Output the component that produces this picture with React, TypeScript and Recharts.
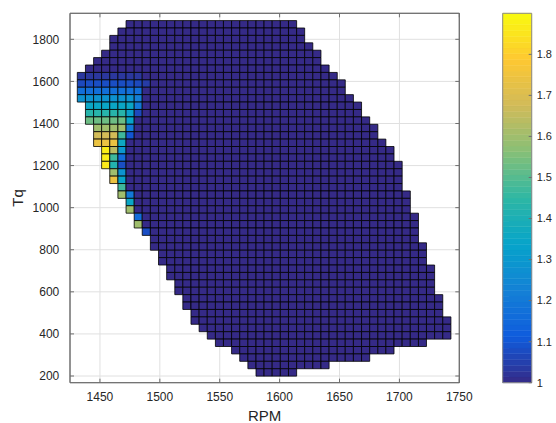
import React from "react"
import {
  ScatterChart,
  XAxis,
  YAxis,
  CartesianGrid,
  ReferenceArea,
} from "recharts"

// cell edges of the RPM / Tq grid
const rpmEdges = [
  1431.1, 1437.9, 1444.7, 1451.4, 1458.2, 1465.0, 1471.8, 1478.6, 1485.3, 1492.1,
  1498.9, 1505.7, 1512.5, 1519.2, 1526.0, 1532.8, 1539.6, 1546.4, 1553.1, 1559.9,
  1566.7, 1573.5, 1580.3, 1587.0, 1593.8, 1600.6, 1607.4, 1614.2, 1620.9, 1627.7,
  1634.5, 1641.3, 1648.1, 1654.8, 1661.6, 1668.4, 1675.2, 1682.0, 1688.7, 1695.5,
  1702.3, 1709.1, 1715.9, 1722.6, 1729.4, 1736.2, 1743.0,
]
// top to bottom
const tqEdges = [
  1889, 1853.8, 1818.6, 1783.4, 1748.2, 1713, 1677.8, 1642.6, 1607.4, 1572.2,
  1537, 1501.8, 1466.6, 1431.4, 1396.2, 1361, 1325.8, 1290.6, 1255.4, 1220.2,
  1185, 1149.8, 1114.6, 1079.4, 1044.2, 1009, 973.8, 938.6, 903.4, 868.2,
  833, 797.8, 762.6, 727.4, 692.2, 657, 621.8, 586.6, 551.4, 516.2,
  481, 445.8, 410.6, 375.4, 340.2, 305, 269.8, 234.6, 199.4,
]

// first / last+1 column that holds data, per row (top row first)
const rowStart = [
  6, 5, 4, 4, 3, 2, 1, 0, 0, 0, 0, 1, 1, 1, 2, 2, 2, 3, 3, 3, 4, 4, 5, 5,
  6, 6, 7, 7, 8, 9, 9, 10, 10, 11, 11, 12, 12, 13, 13, 14, 14, 15, 16, 17, 19, 20, 21, 22,
]
const rowEnd = [
  27, 28, 28, 29, 30, 30, 31, 32, 33, 33, 34, 35, 35, 36, 37, 37, 38, 39, 39, 40, 40, 40, 40, 41,
  41, 41, 42, 42, 42, 42, 43, 43, 43, 44, 44, 44, 44, 45, 45, 45, 46, 46, 46, 43, 39, 36, 31, 27,
]

// cells above 1: [row, first col, values]
const hotRows: [number, number, number[]][] = [
  [7, 0, [1.03, 1.03, 1.03, 1.03, 1.03, 1.03, 1.03, 1.03]],
  [8, 0, [1.07, 1.08, 1.08, 1.08, 1.08, 1.08, 1.08, 1.07, 1.04]],
  [9, 0, [1.17, 1.17, 1.17, 1.17, 1.17, 1.17, 1.17, 1.17]],
  [10, 0, [1.28, 1.28, 1.28, 1.28, 1.28, 1.28, 1.28, 1.22]],
  [11, 1, [1.35, 1.35, 1.35, 1.35, 1.35, 1.35, 1.2]],
  [12, 1, [1.43, 1.43, 1.43, 1.43, 1.43, 1.32, 1.07]],
  [13, 1, [1.53, 1.53, 1.53, 1.53, 1.53, 1.34]],
  [14, 2, [1.6, 1.6, 1.6, 1.6, 1.2]],
  [15, 2, [1.68, 1.68, 1.68, 1.47, 1.1]],
  [16, 2, [1.74, 1.74, 1.74, 1.36]],
  [17, 3, [1.87, 1.64, 1.3]],
  [18, 3, [1.87, 1.47, 1.16]],
  [19, 3, [1.86, 1.42, 1.08]],
  [20, 4, [1.6, 1.28]],
  [21, 4, [1.74, 1.34]],
  [22, 5, [1.47]],
  [23, 5, [1.6, 1.2]],
  [24, 6, [1.35]],
  [25, 6, [1.6]],
  [26, 7, [1.16]],
  [27, 7, [1.6]],
  [28, 8, [1.08]],
]

const xTicks = [1450, 1500, 1550, 1600, 1650, 1700, 1750]
const yTicks = [200, 400, 600, 800, 1000, 1200, 1400, 1600, 1800]
const cbTicks = [1, 1.1, 1.2, 1.3, 1.4, 1.5, 1.6, 1.7, 1.8]
const C_MIN = 1
const C_MAX = 1.9
const X_DOMAIN = [1425, 1750]
const Y_DOMAIN = [168.2, 1923.6]

const parula = [
  "#352A87", "#0F5CDD", "#1481D6", "#06A4CA", "#2EB7A4",
  "#87BF77", "#D1BB59", "#FEC832", "#F9FB0E",
]
const CB_LEVELS = 64

const FONT = '"Liberation Sans", Arial, Helvetica, sans-serif'
const TEXT = "#262626"
const AXIS = "#6f6f6f"

function hexToRgb(h: string) {
  const n = parseInt(h.slice(1), 16)
  return [(n >> 16) & 255, (n >> 8) & 255, n & 255]
}

function parulaColor(v: number) {
  const t = Math.min(1, Math.max(0, (v - C_MIN) / (C_MAX - C_MIN))) * (parula.length - 1)
  const i = Math.min(parula.length - 2, Math.floor(t))
  const f = t - i
  const a = hexToRgb(parula[i])
  const b = hexToRgb(parula[i + 1])
  const c = a.map((x, k) => Math.round(x + (b[k] - x) * f))
  return `rgb(${c[0]},${c[1]},${c[2]})`
}

const hot = new Map<string, number>()
hotRows.forEach(([r, c0, vals]) => vals.forEach((v, i) => hot.set(`${r}-${c0 + i}`, v)))

const cells: { key: string; x1: number; x2: number; y1: number; y2: number; v: number }[] = []
rowStart.forEach((s, r) => {
  for (let c = s; c < rowEnd[r]; c++) {
    cells.push({
      key: `${r}-${c}`,
      x1: rpmEdges[c],
      x2: rpmEdges[c + 1],
      y1: tqEdges[r + 1],
      y2: tqEdges[r],
      v: hot.get(`${r}-${c}`) ?? 1,
    })
  }
})

// colormap bands for the colorbar
const bands = Array.from({ length: CB_LEVELS }, (_, i) => {
  const lo = C_MIN + ((C_MAX - C_MIN) * i) / CB_LEVELS
  const hi = C_MIN + ((C_MAX - C_MIN) * (i + 1)) / CB_LEVELS
  return { lo, hi, color: parulaColor((lo + hi) / 2) }
})

const XTick = ({ x, y, payload }: any) => (
  <g>
    <line x1={x} x2={x} y1={y - 9.3} y2={y - 13.3} stroke={AXIS} />
    <text x={x} y={y} dy="0.71em" textAnchor="middle" fill={TEXT} fontSize={12} fontFamily={FONT}>
      {payload.value}
    </text>
  </g>
)

const YTick = ({ x, y, payload }: any) => (
  <g>
    <line x1={x + 10.7} x2={x + 14.7} y1={y} y2={y} stroke={AXIS} />
    <text x={x} y={y} dy="0.35em" textAnchor="end" fill={TEXT} fontSize={12} fontFamily={FONT}>
      {payload.value}
    </text>
  </g>
)

const TopTick = ({ x, y }: any) => <line x1={x} x2={x} y1={y} y2={y + 4} stroke={AXIS} />
const RightTick = ({ x, y }: any) => <line x1={x - 4} x2={x} y1={y} y2={y} stroke={AXIS} />

const CbTick = ({ x, y, payload }: any) => (
  <g>
    <line x1={x - 8} x2={x - 5} y1={y} y2={y} stroke={AXIS} />
    <text x={x} y={y} dy="0.35em" textAnchor="start" fill={TEXT} fontSize={11} fontFamily={FONT}>
      {payload.value}
    </text>
  </g>
)

const TqLabel = ({ viewBox }: any) => (
  <text
    x={viewBox.x + 18}
    y={viewBox.y + viewBox.height / 2}
    transform={`rotate(-90, ${viewBox.x + 18}, ${viewBox.y + viewBox.height / 2})`}
    textAnchor="middle"
    dy="0.35em"
    fill={TEXT}
    fontSize={15}
    fontFamily={FONT}
  >
    Tq
  </text>
)

export default function App() {
  return (
    <div style={{ position: "absolute", left: 0, top: 0, width: 556, height: 423, background: "#fff" }}>
      <div style={{ position: "absolute", left: 0, top: 0 }}>
        <ScatterChart width={488} height={423} margin={{ top: 12.3, right: 27.7, bottom: 0, left: 0 }}>
          <CartesianGrid stroke="#e0e0e0" verticalValues={xTicks} horizontalValues={yTicks} />
          <XAxis
            type="number"
            dataKey="x"
            domain={X_DOMAIN}
            ticks={xTicks}
            interval={0}
            allowDataOverflow
            height={40.3}
            tickSize={0}
            tickMargin={9.3}
            tick={XTick}
            axisLine={{ stroke: AXIS }}
            label={{ value: "RPM", position: "insideBottom", offset: 2, fill: TEXT, fontSize: 15, fontFamily: FONT }}
          />
          <XAxis
            xAxisId="top"
            orientation="top"
            type="number"
            dataKey="x"
            domain={X_DOMAIN}
            ticks={xTicks}
            interval={0}
            allowDataOverflow
            height={1}
            tickSize={0}
            tickMargin={0}
            tick={TopTick}
            axisLine={{ stroke: AXIS }}
          />
          <YAxis
            type="number"
            dataKey="y"
            domain={Y_DOMAIN}
            ticks={yTicks}
            interval={0}
            allowDataOverflow
            width={70}
            tickSize={0}
            tickMargin={10.7}
            tick={YTick}
            axisLine={{ stroke: AXIS }}
            label={{ content: TqLabel }}
          />
          <YAxis
            yAxisId="right"
            orientation="right"
            type="number"
            dataKey="y"
            domain={Y_DOMAIN}
            ticks={yTicks}
            interval={0}
            allowDataOverflow
            width={1}
            tickSize={0}
            tickMargin={0}
            tick={RightTick}
            axisLine={{ stroke: AXIS }}
          />
          <ReferenceArea
            x1={X_DOMAIN[0]}
            x2={X_DOMAIN[1]}
            y1={Y_DOMAIN[0]}
            y2={Y_DOMAIN[1]}
            fill="none"
            stroke={AXIS}
            strokeWidth={1}
            ifOverflow="visible"
          />
          {cells.map((c) => (
            <ReferenceArea
              key={c.key}
              x1={c.x1}
              x2={c.x2}
              y1={c.y1}
              y2={c.y2}
              fill={parulaColor(c.v)}
              fillOpacity={1}
              stroke="#000"
              strokeWidth={0.8}
              ifOverflow="visible"
            />
          ))}
        </ScatterChart>
      </div>
      <div style={{ position: "absolute", left: 490, top: 0 }}>
        <ScatterChart width={66} height={423} margin={{ top: 13.3, right: 0, bottom: 39.3, left: 12.7 }}>
          <XAxis
            type="number"
            dataKey="x"
            domain={[0, 1]}
            allowDataOverflow
            height={1}
            tick={false}
            tickLine={false}
            axisLine={false}
          />
          <YAxis
            orientation="right"
            type="number"
            dataKey="y"
            domain={[C_MIN, C_MAX]}
            ticks={cbTicks}
            interval={0}
            allowDataOverflow
            width={24.3}
            tickSize={0}
            tickMargin={5}
            axisLine={false}
            tick={CbTick}
          />
          {bands.map((b) => (
            <ReferenceArea
              key={b.lo}
              x1={0}
              x2={1}
              y1={b.lo}
              y2={b.hi}
              fill={b.color}
              fillOpacity={1}
              stroke={b.color}
              strokeWidth={0.5}
              ifOverflow="visible"
            />
          ))}
          <ReferenceArea
            x1={0}
            x2={1}
            y1={C_MIN}
            y2={C_MAX}
            fill="none"
            stroke="#8a8a8a"
            strokeWidth={1}
            ifOverflow="visible"
          />
        </ScatterChart>
      </div>
    </div>
  )
}
